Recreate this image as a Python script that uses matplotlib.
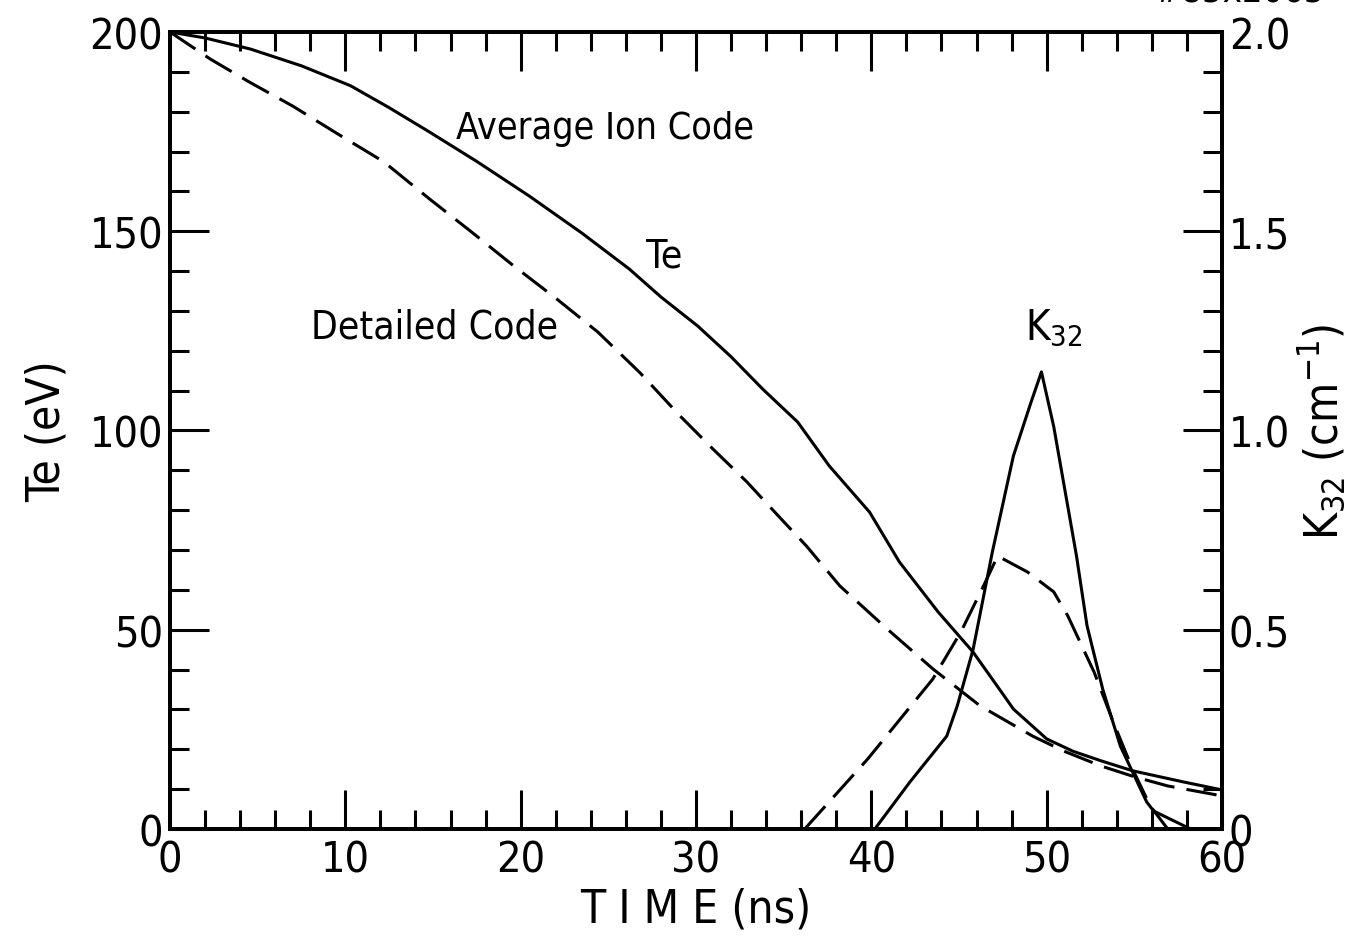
import matplotlib
matplotlib.use('Agg')
import matplotlib.pyplot as plt
from matplotlib.ticker import MultipleLocator, FuncFormatter

plt.rcParams['font.family'] = ['DejaVu Sans']
plt.rcParams['font.stretch'] = 'condensed'
plt.rcParams['mathtext.fontset'] = 'custom'
plt.rcParams['mathtext.rm'] = 'DejaVu Sans:stretch=condensed'

# Te, average ion code (solid)
t_avg = [0, 2, 4.6, 7.5, 10.3, 12.5, 14.8, 17.5, 20.5, 23.5, 26.2, 28, 30.1, 32, 33.8, 35.8,
         37.6, 39.9, 41.6, 43.8, 45.8, 47.3, 48.1, 50, 51.5, 53.1, 54.9, 57.8, 60]
te_avg = [200, 198.5, 195.7, 191.5, 186.5, 181, 174.9, 167.5, 158.8, 149.5, 140.5, 133.5, 126.2,
          118.5, 110.4, 102.1, 91.1, 79.5, 67, 54.5, 44.4, 35.1, 30.1, 22.6, 19.5, 17.1, 14.6,
          11.8, 9.8]

# Te, detailed code (dashed)
t_det = [0, 2.3, 4.5, 7, 9.5, 12.2, 14.8, 17.2, 19.6, 22, 24.4, 26.8, 29.1, 31, 32.9, 34.6,
         36.3, 38.2, 40.9, 43.5, 46.2, 49.2, 51, 53.1, 55, 56.9, 60]
te_det = [200, 193.2, 187.5, 181.4, 174.6, 167.4, 158.1, 149.8, 141.3, 133.2, 124.7, 114.5,
          103.6, 95.2, 87.1, 79, 71, 61, 50.2, 40.2, 30.9, 23.3, 19.5, 15.8, 13.1, 10.8, 8.3]

# K32, average ion code (solid)
t_k_avg = [40.2, 42.2, 44.3, 44.9, 45.8, 46.9, 48.1, 49.1, 49.7, 50.4, 51.2, 51.7, 52.3, 53.2,
           54.2, 55.7, 56.1, 58.2]
k_avg = [0, 0.118, 0.233, 0.309, 0.45, 0.695, 0.936, 1.07, 1.147, 1.01, 0.81, 0.685, 0.51, 0.35,
         0.208, 0.068, 0.045, 0]

# K32, detailed code (dashed)
t_k_det = [36.2, 39.8, 43.5, 45.1, 46.4, 47.2, 48.9, 50.4, 51.2, 52.7, 53.8, 54.9, 55.9, 56.9]
k_det = [0, 0.176, 0.376, 0.494, 0.61, 0.685, 0.645, 0.595, 0.535, 0.394, 0.268, 0.15, 0.058, 0]

fig = plt.figure(figsize=(13.61, 9.53), dpi=100)
ax = fig.add_axes([0.1249, 0.1291, 0.7730, 0.8363])
ax2 = ax.twinx()

lw = 2.2
dash = (10, 4)
ax.plot(t_avg, te_avg, color='black', lw=lw)
ax.plot(t_det, te_det, color='black', lw=lw, dashes=dash)
ax2.plot(t_k_avg, k_avg, color='black', lw=lw)
ax2.plot(t_k_det, k_det, color='black', lw=lw, dashes=dash)

ax.set_xlim(0, 60)
ax.set_ylim(0, 200)
ax2.set_ylim(0, 2.0)

ax.xaxis.set_major_locator(MultipleLocator(10))
ax.xaxis.set_minor_locator(MultipleLocator(2))
ax.yaxis.set_major_locator(MultipleLocator(50))
ax.yaxis.set_minor_locator(MultipleLocator(10))
ax2.yaxis.set_major_locator(MultipleLocator(0.5))
ax2.yaxis.set_minor_locator(MultipleLocator(0.1))
ax2.yaxis.set_major_formatter(FuncFormatter(lambda v, p: '0' if v == 0 else '%.1f' % v))

tick_fs = 31
ax.tick_params(which='both', direction='in', top=True, right=False, width=2.2,
               labelsize=tick_fs, pad=5)
ax.tick_params(axis='x', pad=7)
ax.tick_params(which='major', length=28)
ax.tick_params(which='minor', length=14)
ax2.tick_params(which='both', direction='in', width=2.2, labelsize=tick_fs, pad=5)
ax2.tick_params(which='major', length=28)
ax2.tick_params(which='minor', length=14)

for a in (ax, ax2):
    for s in a.spines.values():
        s.set_linewidth(2.8)

ax.set_xlabel('T I M E (ns)', fontsize=33, labelpad=4)
ax.set_ylabel('Te (eV)', fontsize=33, labelpad=14)
ax2.set_ylabel('K$_{32}$ (cm$^{-1}$)', fontsize=33, labelpad=4)

ax.text(24.8, 176, 'Average Ion Code', fontsize=27, ha='center', va='center')
ax.text(28.2, 144, 'Te', fontsize=28, ha='center', va='center')
ax.text(15.1, 126, 'Detailed Code', fontsize=28, ha='center', va='center')
ax2.text(50.4, 1.26, 'K$_{32}$', fontsize=30, ha='center', va='center')

fig.text(0.911, 0.9916, '#85x2065', fontsize=26, ha='center', va='bottom')

fig.savefig('out.png', dpi=100)
